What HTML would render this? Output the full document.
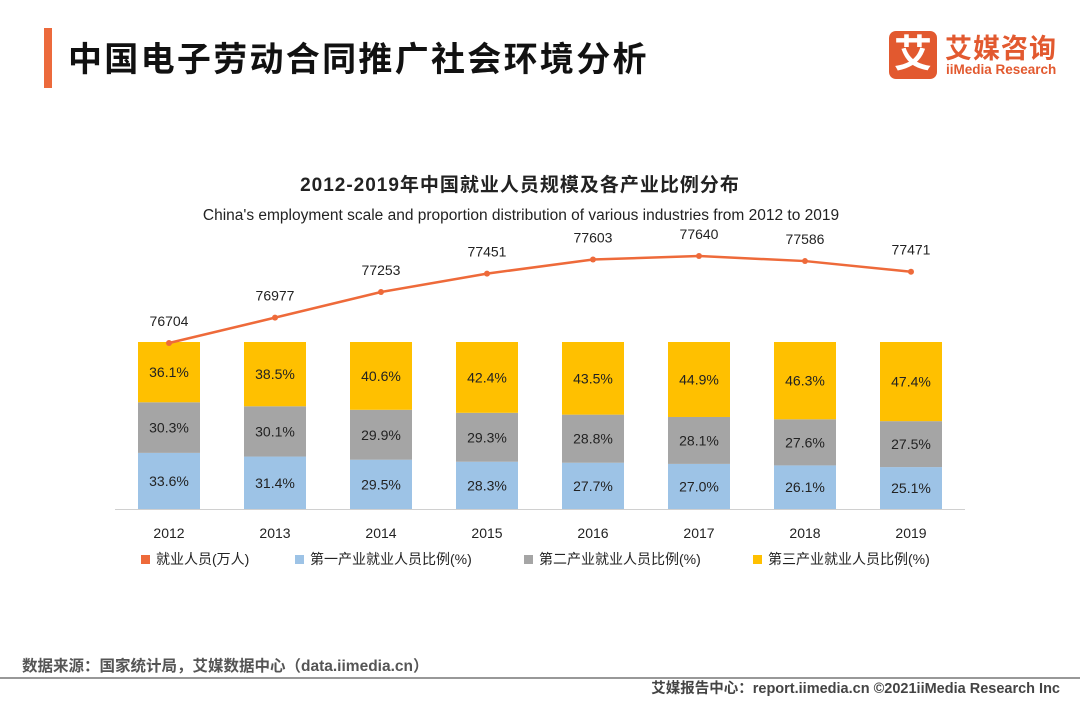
<!DOCTYPE html>
<html><head><meta charset="utf-8"><style>
body{margin:0;width:1080px;height:702px;background:#fff;overflow:hidden;position:relative;font-family:"Liberation Sans","Noto Sans CJK SC",sans-serif;}
.abs{position:absolute;white-space:nowrap;}
</style></head><body>
<div class="abs" style="left:44px;top:28px;width:8px;height:60px;background:#ec6a3c"></div>
<div class="abs" style="left:68px;top:32px;font-size:34px;font-weight:bold;color:#111;letter-spacing:2.3px">中国电子劳动合同推广社会环境分析</div>
<div class="abs" style="left:889px;top:29px;width:175px;height:52px">
 <div class="abs" style="left:0;top:2px;width:48px;height:48px;background:#e2592f;border-radius:7px;color:#fff;font-size:38px;font-weight:bold;text-align:center;line-height:48px">艾</div>
 <div class="abs" style="left:56px;top:-2px;font-size:27px;font-weight:bold;color:#e2592f;letter-spacing:1px">艾媒咨询</div>
 <div class="abs" style="left:57px;top:33px;font-size:13.5px;font-weight:bold;color:#e2592f">iiMedia Research</div>
</div>
<svg class="abs" style="left:0;top:0" width="1080" height="702">
<text x="520" y="191" text-anchor="middle" font-size="19" font-weight="bold" fill="#222" letter-spacing="1">2012-2019年中国就业人员规模及各产业比例分布</text>
<text x="521" y="220" text-anchor="middle" font-size="15.5" fill="#222">China's employment scale and proportion distribution of various industries from 2012 to 2019</text>
<line x1="115" y1="509.5" x2="965" y2="509.5" stroke="#d0d0d0"/>
<g id="bars"></g><g id="line"></g><g id="xlabels"></g>
<g font-size="14" fill="#222">
<rect x="141" y="555" width="9" height="9" fill="#ee6a3a"/><text x="156" y="564">就业人员(万人)</text>
<rect x="295" y="555" width="9" height="9" fill="#9dc3e6"/><text x="310" y="564">第一产业就业人员比例(%)</text>
<rect x="524" y="555" width="9" height="9" fill="#a5a5a5"/><text x="539" y="564">第二产业就业人员比例(%)</text>
<rect x="753" y="555" width="9" height="9" fill="#ffc000"/><text x="768" y="564">第三产业就业人员比例(%)</text>
</g>
<text x="22" y="671" font-size="15.5" font-weight="bold" fill="#555">数据来源：国家统计局，艾媒数据中心（data.iimedia.cn）</text>
<line x1="0" y1="678" x2="1080" y2="678" stroke="#777" stroke-width="1.5"/>
<text x="1060" y="693" text-anchor="end" font-size="14.5" font-weight="bold" fill="#444">艾媒报告中心：report.iimedia.cn   ©2021iiMedia Research  Inc</text>
</svg>
<script>
const years=["2012","2013","2014","2015","2016","2017","2018","2019"];
const employment=[76704,76977,77253,77451,77603,77640,77586,77471];
const primary=[33.6,31.4,29.5,28.3,27.7,27.0,26.1,25.1];
const secondary=[30.3,30.1,29.9,29.3,28.8,28.1,27.6,27.5];
const tertiary=[36.1,38.5,40.6,42.4,43.5,44.9,46.3,47.4];
const NS="http://www.w3.org/2000/svg";
function xc(i){return 169+i*106;}
function yLine(v){return 343-(v-76704)*0.0929;}
const base=509,H=167,bw=62;
function mk(tag,attrs,parent){const e=document.createElementNS(NS,tag);for(const k in attrs)e.setAttribute(k,attrs[k]);parent.appendChild(e);return e;}
const gb=document.getElementById('bars'),gl=document.getElementById('line'),gx=document.getElementById('xlabels');
years.forEach((y,i)=>{
 const tot=primary[i]+secondary[i]+tertiary[i];
 let cur=base;
 [[primary,'#9dc3e6','primary'],[secondary,'#a5a5a5','secondary'],[tertiary,'#ffc000','tertiary']].forEach(([arr,col,nm])=>{
  const h=arr[i]/tot*H;
  const r=mk('rect',{x:xc(i)-bw/2,y:cur-h,width:bw,height:h,fill:col},gb);
  
  
  const t=mk('text',{x:xc(i),y:cur-h/2+5,'text-anchor':'middle','font-size':14,fill:'#222'},gb);
  t.textContent=arr[i].toFixed(1)+'%';
  
  
  cur-=h;
 });
 const xl=mk('text',{x:xc(i),y:538,'text-anchor':'middle','font-size':14,fill:'#222'},gx);
 xl.textContent=y;
 
 
});
const pts=employment.map((v,i)=>xc(i)+','+yLine(v)).join(' ');
const pl=mk('polyline',{points:pts,fill:'none',stroke:'#ee6a3a','stroke-width':2.5},gl);


employment.forEach((v,i)=>{
 const c=mk('circle',{cx:xc(i),cy:yLine(v),r:3,fill:'#ee6a3a'},gl);
 
 
 const t=mk('text',{x:xc(i),y:yLine(v)-17,'text-anchor':'middle','font-size':14,fill:'#222'},gl);
 t.textContent=v;
 
 
});
</script>
</body></html>
